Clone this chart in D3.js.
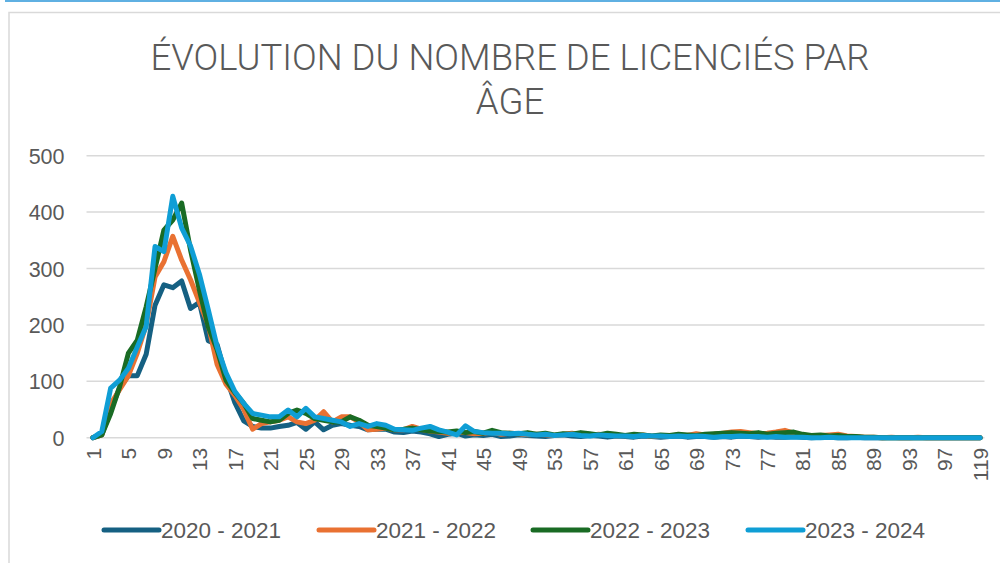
<!DOCTYPE html>
<html>
<head>
<meta charset="utf-8">
<script src="https://cdn.jsdelivr.net/npm/d3@7"></script>
<style>
  body { margin: 0; background: #fff; }
  svg { display: block; }
  .lbl { font-family: "Liberation Sans", Arial, sans-serif; fill: #595959; }
  .ttl { font-family: Roboto, "Liberation Sans", sans-serif; font-weight: 300; fill: #595959; }
</style>
</head>
<body>
<div class="canvas"></div>
<script>
// ages on the x axis (last one is 119)
const ages = d3.range(1, 101).concat([119]);

const s2021 = [
  0, 5, 50, 88, 110, 110, 148, 235, 271, 266,
  278, 229, 240, 172, 165, 108, 62, 30, 20, 17,
  17, 20, 22, 27, 15, 28, 14, 22, 25, 22,
  20, 14, 15, 15, 10, 9, 12, 10, 7, 2,
  6, 8, 3, 5, 4, 6, 2, 3, 5, 4,
  3, 2, 4, 5, 3, 2, 4, 3, 1, 3,
  2, 1, 3, 2, 1, 2, 3, 1, 2, 2,
  1, 2, 1, 3, 2, 1, 2, 1, 1, 2,
  1, 0, 1, 1, 0, 0, 1, 0, 0, 0,
  0, 0, 0, 0, 0, 0, 0, 0, 0, 0,
  0
];
const s2122 = [
  0, 5, 60, 85, 110, 150, 200, 285, 312, 357,
  315, 280, 240, 200, 130, 95, 75, 50, 15, 25,
  28, 31, 37, 28, 25, 31, 46, 28, 37, 37,
  28, 14, 15, 17, 14, 14, 20, 15, 12, 10,
  8, 10, 9, 7, 8, 10, 6, 8, 7, 5,
  6, 5, 4, 6, 8, 5, 4, 6, 5, 3,
  4, 3, 5, 2, 4, 3, 5, 4, 7, 5,
  6, 8, 10, 11, 9, 7, 8, 10, 13, 8,
  5, 3, 4, 5, 6, 3, 2, 1, 1, 0,
  1, 0, 0, 1, 0, 0, 0, 0, 0, 0,
  0
];
const s2223 = [
  0, 5, 43, 90, 150, 173, 232, 300, 368, 386,
  416, 333, 262, 197, 156, 102, 80, 61, 34, 31,
  28, 31, 43, 49, 43, 34, 31, 28, 28, 37,
  31, 22, 20, 17, 14, 15, 17, 14, 12, 11,
  10, 12, 9, 11, 8, 13, 9, 8, 7, 9,
  6, 8, 5, 7, 6, 9, 7, 5, 8, 6,
  4, 6, 5, 3, 5, 4, 6, 5, 4, 6,
  7, 8, 9, 8, 7, 9, 6, 8, 9, 10,
  6, 4, 5, 3, 4, 2, 2, 1, 1, 0,
  0, 0, 0, 0, 0, 0, 0, 0, 0, 0,
  0
];
const s2324 = [
  0, 11, 88, 102, 123, 161, 197, 339, 330, 428,
  372, 340, 290, 227, 161, 115, 82, 61, 43, 40,
  37, 37, 49, 37, 52, 37, 34, 31, 28, 20,
  25, 20, 25, 22, 15, 14, 13, 17, 20, 14,
  10, 5, 21, 11, 9, 8, 8, 7, 8, 6,
  5, 6, 4, 5, 6, 4, 3, 5, 4, 3,
  3, 2, 4, 3, 3, 2, 3, 2, 3, 2,
  1, 2, 2, 3, 2, 2, 1, 2, 1, 1,
  1, 0, 0, 1, 0, 0, 0, 0, 0, 0,
  0, 0, 0, 0, 0, 0, 0, 0, 0, 0,
  0
];

const seriesNames = ['2020 - 2021', '2021 - 2022', '2022 - 2023', '2023 - 2024'];
const seriesValues = [s2021, s2122, s2223, s2324];
const colors = ['#156082', '#e97132', '#196b24', '#0f9ed5'];
const yTicks = [0, 100, 200, 300, 400, 500];

const width = 1000;
const height = 563;
const plot = { left: 88.5, right: 984.5, top: 155.7, bottom: 437.7 };

const svg = d3.select('.canvas')
    .append('svg')
    .attr('width', width)
    .attr('height', height);

// page decoration
svg.append('rect')
    .attr('x', 5).attr('y', 0)
    .attr('width', 995).attr('height', 2)
    .attr('fill', '#5fb0e2');

svg.append('rect')
    .attr('x', 9).attr('y', 12.5)
    .attr('width', 1000).attr('height', 560)
    .attr('fill', 'none')
    .attr('stroke', '#d9d9d9')
    .attr('stroke-width', 1.5);

// title, sized so the first line is about 720px wide
const title = svg.append('text')
    .attr('class', 'ttl')
    .attr('text-anchor', 'middle')
    .style('font-size', '34px');
const t1 = title.append('tspan').attr('x', 510).attr('y', 70).text('ÉVOLUTION DU NOMBRE DE LICENCIÉS PAR');
title.append('tspan').attr('x', 510).attr('y', 114).text('ÂGE');
const w1 = t1.node().getComputedTextLength();
if (w1 > 0) title.style('font-size', (34 * 720 / w1).toFixed(1) + 'px');

// scales
const x = d3.scalePoint()
    .domain(ages)
    .range([plot.left, plot.right])
    .padding(0.5);

const y = d3.scaleLinear()
    .domain([0, 500])
    .range([plot.bottom, plot.top]);

// grid
svg.append('g')
    .selectAll('line')
    .data(yTicks)
    .enter()
    .append('line')
    .attr('x1', plot.left - 2)
    .attr('x2', plot.right)
    .attr('y1', d => y(d))
    .attr('y2', d => y(d))
    .attr('stroke', '#d9d9d9')
    .attr('stroke-width', 1.5);

// y axis
const yAxis = d3.axisLeft(y)
    .tickValues(yTicks)
    .tickSize(0)
    .tickPadding(0);

const yAxisGroup = svg.append('g')
    .attr('transform', `translate(${plot.left - 24}, 0)`)
    .call(yAxis);
yAxisGroup.select('.domain').remove();
yAxisGroup.selectAll('text')
    .attr('class', 'lbl')
    .style('font-size', '21.5px')
    .attr('dy', '0.35em');

// x axis
const xAxis = d3.axisBottom(x)
    .tickValues(ages.filter((d, i) => i % 4 === 0))
    .tickSize(0);

const xAxisGroup = svg.append('g')
    .attr('transform', `translate(0, ${plot.bottom})`)
    .call(xAxis);
xAxisGroup.select('.domain').remove();
xAxisGroup.selectAll('text')
    .attr('class', 'lbl')
    .style('font-size', '21px')
    .attr('transform', 'rotate(-90)')
    .attr('text-anchor', 'end')
    .attr('x', -10)
    .attr('y', 0)
    .attr('dy', '0.35em');

// lines
const line = d3.line()
    .x((d, i) => x(ages[i]))
    .y(d => y(d));

svg.append('g')
    .selectAll('path')
    .data(seriesValues)
    .enter()
    .append('path')
    .attr('d', line)
    .attr('fill', 'none')
    .attr('stroke', (d, i) => colors[i])
    .attr('stroke-width', 5)
    .attr('stroke-linejoin', 'round')
    .attr('stroke-linecap', 'round');

// legend
const legendX = [104, 319, 533, 748];
const legend = svg.append('g')
    .selectAll('g')
    .data(seriesNames)
    .enter()
    .append('g')
    .attr('transform', (d, i) => `translate(${legendX[i]}, 530)`);

legend.append('line')
    .attr('x1', 0).attr('x2', 55)
    .attr('stroke', (d, i) => colors[i])
    .attr('stroke-width', 5)
    .attr('stroke-linecap', 'round');

legend.append('text')
    .attr('class', 'lbl')
    .attr('x', 57)
    .attr('dy', '0.35em')
    .style('font-size', '22.5px')
    .text(d => d);
</script>
</body>
</html>
